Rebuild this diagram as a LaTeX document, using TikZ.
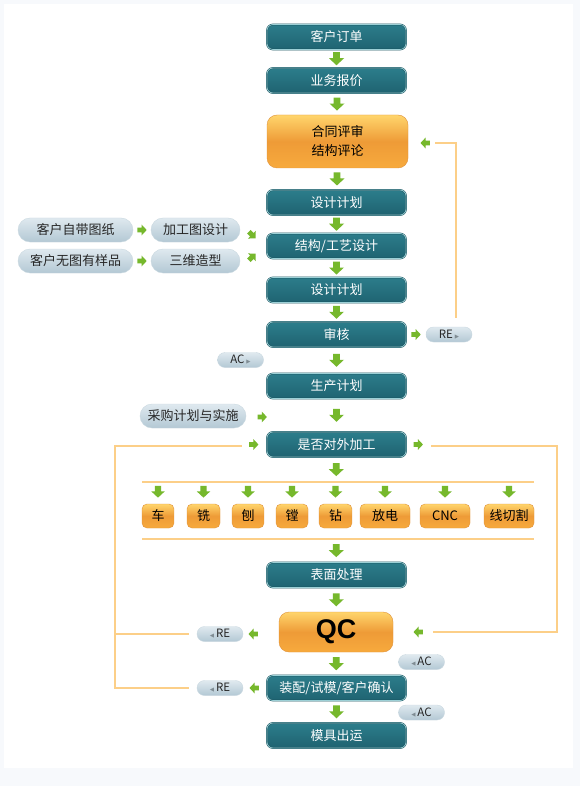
\documentclass[tikz,border=0pt]{standalone}
\usepackage{fontspec}
\setmainfont{Noto Sans CJK SC}
\newfontfamily\symfont{DejaVu Sans}
\newfontfamily\qcfont{Liberation Sans}
\usetikzlibrary{calc,shapes.misc}

\definecolor{paper}{HTML}{F7F9FC}
\definecolor{tealtop}{HTML}{2C7D8B}
\definecolor{tealbot}{HTML}{1F6371}
\definecolor{tealedge}{HTML}{1A5561}
\definecolor{teallite}{HTML}{9CD0D6}
\definecolor{orgtop}{HTML}{FFD56C}
\definecolor{orgmid}{HTML}{EE9B37}
\definecolor{orgbot}{HTML}{F7AA3D}
\definecolor{orgedge}{HTML}{E0923A}
\definecolor{pilltop}{HTML}{DFE9EF}
\definecolor{pillbot}{HTML}{B3C8D4}
\definecolor{pilledge}{HTML}{C9D8E0}
\definecolor{arrgreen}{HTML}{76B82C}
\definecolor{loopcol}{HTML}{FCCF88}
\definecolor{tricol}{HTML}{7F8C93}

\newcommand\rtri{{\symfont\fontsize{5.5}{6}\selectfont\color{tricol}▶}}
\newcommand\ltri{{\symfont\fontsize{5.5}{6}\selectfont\color{tricol}◀}}

\tikzset{
  proc/.style={rectangle, rounded corners=6pt, minimum width=139, minimum height=25, inner sep=0pt,
    top color=tealtop, bottom color=tealbot, draw=tealedge, double=teallite, double distance=.7pt,
    line width=.5pt, text=white, font=\fontsize{13}{15}\selectfont},
  hot/.style={rectangle, rounded corners=5pt, inner sep=0pt, top color=orgtop, bottom color=orgbot,
    middle color=orgmid, draw=orgedge, line width=.4pt, text=black, font=\fontsize{13}{15}\selectfont},
  pill/.style={rounded rectangle, minimum height=24, inner sep=0pt, top color=pilltop,
    bottom color=pillbot, draw=pilledge, line width=.4pt, text=black!85, font=\fontsize{13}{15}\selectfont},
  tag/.style={pill, minimum width=46, minimum height=15, font=\fontsize{11.5}{12}\selectfont},
  fb/.style={draw=loopcol, line width=1.5pt},
  bar/.style={draw=loopcol, line width=2.6pt},
  garr/.pic={\fill[arrgreen] (-3.4,-6.5) -- (3.4,-6.5) -- (3.4,-.5) -- (7.5,-.5) -- (0,6.5) -- (-7.5,-.5) -- (-3.4,-.5) -- cycle;}
}

\begin{document}
\begin{tikzpicture}[x=1pt,y=-1pt]
  \fill[paper] (0,0) rectangle (580,786);
  \fill[white] (4,4) rectangle (573,768);

  % main column
  \node[proc] (kh) at (336.5,37) {客户订单};
  \node[proc] (bj) at (336.5,80.5) {业务报价};
  \node[hot, minimum width=141, minimum height=53, rounded corners=10pt, align=center,
    font=\fontsize{13}{19}\selectfont] (ht) at (337.5,141.5) {合同评审\\结构评论};
  \node[proc] (sj1) at (336.5,202.5) {设计计划};
  \node[proc] (jg) at (336.5,246) {结构/工艺设计};
  \node[proc] (sj2) at (336.5,290) {设计计划};
  \node[proc] (sh) at (336.5,334.5) {审核};
  \node[proc] (sc) at (336.5,386) {生产计划};
  \node[proc] (wj) at (336.5,444.5) {是否对外加工};
  \node[proc] (bm) at (336.5,575) {表面处理};
  \node[hot, minimum width=114, minimum height=40, rounded corners=10pt,
    font=\qcfont\fontsize{27}{27}\selectfont\bfseries] (qc) at (336,632) {QC};
  \node[proc] (zp) at (336.5,688) {装配/试模/客户确认};
  \node[proc] (mj) at (336.5,735.5) {模具出运};

  % side inputs
  \node[pill, minimum width=115] (p1) at (75.5,230) {客户自带图纸};
  \node[pill, minimum width=89] (p2) at (195.5,230) {加工图设计};
  \node[pill, minimum width=115] (p3) at (75.5,261) {客户无图有样品};
  \node[pill, minimum width=89] (p4) at (195.5,261) {三维造型};
  \node[pill, minimum width=106] (cg) at (193,416) {采购计划与实施};

  % RE / AC tags
  \node[tag] (re1) at (449,334.5) {RE\,\rtri};
  \node[tag] (ac1) at (240.5,360) {AC\,\rtri};
  \node[tag] (re2) at (220,634) {\ltri\,RE};
  \node[tag] (re3) at (220,688) {\ltri\,RE};
  \node[tag] (ac2) at (421.5,662) {\ltri\,AC};
  \node[tag] (ac3) at (421.5,712.5) {\ltri\,AC};

  % machining bars and boxes
  \coordinate (bar1) at (336,482);
  \coordinate (bar2) at (336,539);
  \draw[bar] (bar1) ++(-194,0) -- ++(392,0);
  \draw[bar] (bar2) ++(-194,0) -- ++(392,0);
  \foreach \n/\x/\w/\t in {m1/158/32/车, m2/203.5/33/铣, m3/248/32/刨, m4/292/32/镗,
    m5/335.5/33/钻, m6/385/50/放电, m7/445/50/CNC, m8/509/50/线切割}
  {
    \node[hot, minimum width=\w, minimum height=24] (\n) at (\x,516) {\t};
    \pic[scale=.9] at ([yshift=12pt]\n.north) {garr};
  }

  % feedback loops
  \draw[fb] ($(re1.north)+(7,-9)$) |- ($(ht.east)+(27,1.5)$);
  \draw[fb] ($(wj.west)+(-25,1.5)$) -| ($(re3.west)+(-82,0)$) -- ($(re3.west)+(-8,0)$);
  \draw[fb] ($(re2.west)+(-8,0)$) -- ++(-74,0);
  \draw[fb] ($(wj.east)+(25,1.5)$) -| ($(qc.east)+(164,0)$) -- ($(qc.east)+(40,0)$);

  % green arrows
  \foreach \a/\b in {kh/bj, bj/ht, ht/sj1, sj1/jg, jg/sj2, sj2/sh, sh/sc, sc/wj, bm/qc, qc/zp, zp/mj}
    \pic at ($(\a.south)!.5!(\b.north)$) {garr};
  \pic at ($(wj.south)!.5!(bar1)$) {garr};
  \pic at ($(bar2)!.5!(bm.north)$) {garr};
  \pic[rotate=90,scale=.72] at ($(p1.east)!.5!(p2.west)$) {garr};
  \pic[rotate=90,scale=.72] at ($(p3.east)!.5!(p4.west)$) {garr};
  \pic[rotate=45,scale=.72] at ($(p2.east)+(12,5)$) {garr};
  \pic[rotate=135,scale=.72] at ($(p4.east)+(12,-4)$) {garr};
  \pic[rotate=90,scale=.72] at ($(sh.east)!.5!(re1.west)$) {garr};
  \pic[rotate=90,scale=.72] at ($(cg.east)+(16,1)$) {garr};
  \pic[rotate=90,scale=.72] at ($(wj.west)+(-13,0)$) {garr};
  \pic[rotate=90,scale=.72] at ($(wj.east)+(12,0)$) {garr};
  \pic[rotate=-90,scale=.72] at ($(ht.east)+(17,1.5)$) {garr};
  \pic[rotate=-90,scale=.72] at ($(qc.east)+(25,0)$) {garr};
  \pic[rotate=-90,scale=.72] at ($(re2.east)+(10,0)$) {garr};
  \pic[rotate=-90,scale=.72] at ($(re3.east)+(11,0)$) {garr};
\end{tikzpicture}
\end{document}
